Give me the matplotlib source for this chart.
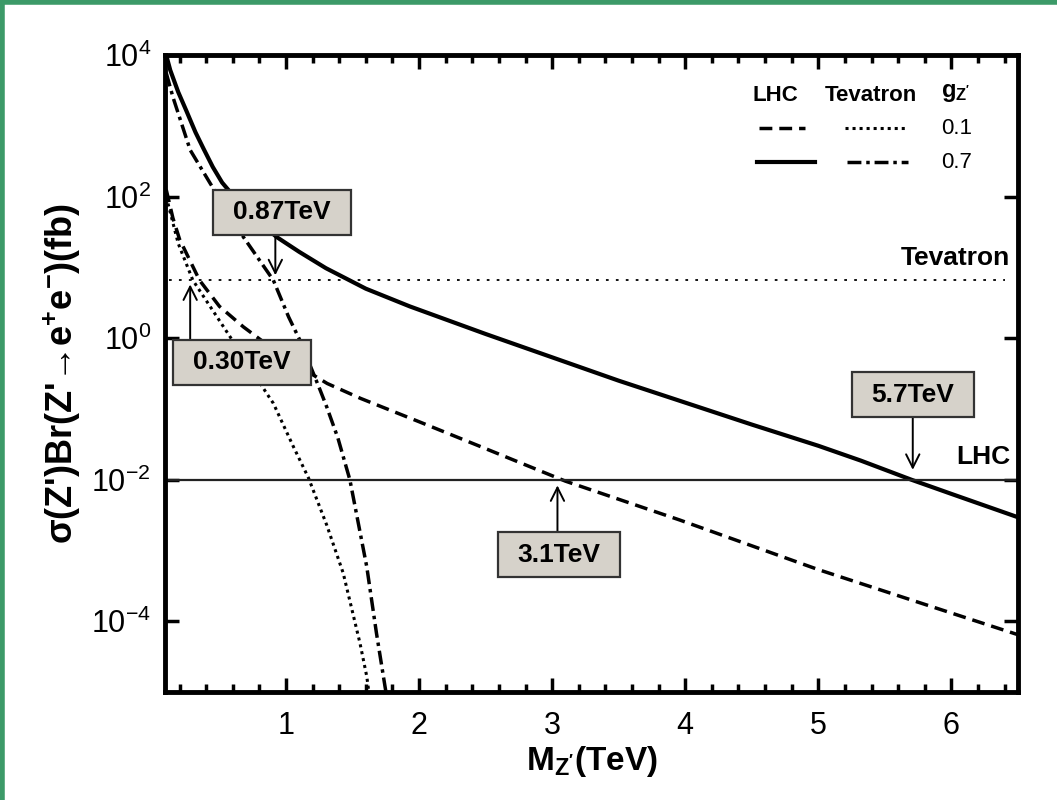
import numpy as np
import matplotlib.pyplot as plt
from matplotlib.lines import Line2D
from matplotlib.patches import Rectangle
from matplotlib.ticker import MultipleLocator, NullLocator

plt.rcParams['font.family'] = ['Liberation Sans', 'DejaVu Sans']
plt.rcParams['mathtext.fontset'] = 'custom'
plt.rcParams['mathtext.rm'] = 'Liberation Sans'
plt.rcParams['mathtext.it'] = 'Liberation Sans:italic'
plt.rcParams['mathtext.bf'] = 'Liberation Sans:bold'
plt.rcParams['mathtext.default'] = 'regular'

# M_Z' in TeV, cross section as log10(sigma*Br / fb)
lhc_07_m = [0.1, 0.13, 0.19, 0.25, 0.32, 0.38, 0.45, 0.52, 0.7, 0.93, 1.1, 1.3, 1.6,
            1.93, 2.5, 3.0, 3.5, 4.0, 4.5, 5.0, 5.32, 5.7, 6.0, 6.5]
lhc_07_lg = [4.0, 3.79, 3.48, 3.22, 2.91, 2.68, 2.42, 2.2, 1.8, 1.43, 1.22, 0.99, 0.70,
             0.45, 0.06, -0.27, -0.6, -0.91, -1.22, -1.52, -1.73, -2.0, -2.2, -2.53]

lhc_01_m = [0.1, 0.15, 0.2, 0.35, 0.5, 0.68, 0.9, 1.1, 1.31, 1.56, 2.0, 2.46,
            3.1, 3.96, 5.0, 5.7, 6.5]
lhc_01_lg = [2.1, 1.7, 1.4, 0.82, 0.45, 0.16, -0.15, -0.4, -0.64, -0.85, -1.18, -1.53,
             -2.02, -2.57, -3.27, -3.7, -4.19]

tev_07_m = [0.1, 0.15, 0.28, 0.43, 0.68, 0.905, 1.02, 1.105, 1.256, 1.306, 1.39,
            1.48, 1.607, 1.68, 1.744, 1.76]
tev_07_lg = [3.75, 3.41, 2.66, 2.19, 1.43, 0.82, 0.30, -0.03, -0.73, -0.97, -1.41,
             -2.0, -3.23, -4.17, -4.92, -5.1]

tev_01_m = [0.1, 0.19, 0.30, 0.58, 0.855, 0.905, 1.055, 1.168, 1.306, 1.43, 1.556,
            1.607, 1.63]
tev_01_lg = [2.0, 1.34, 0.82, 0.02, -0.78, -0.92, -1.53, -1.97, -2.64, -3.32, -4.31,
             -4.78, -5.1]

tev_limit = 6.6    # fb
lhc_limit = 0.01   # fb

# label, arrow tip (M, sigma), box centre (M, sigma)
note_labels = ["0.87TeV", "0.30TeV", "3.1TeV", "5.7TeV"]
note_tip_m = [0.92, 0.28, 3.04, 5.71]
note_tip_s = [10 ** 0.89, 10 ** 0.76, 10 ** -2.08, 10 ** -1.86]
note_box_m = [0.97, 0.67, 3.05, 5.71]
note_box_s = [10 ** 1.78, 10 ** -0.34, 10 ** -3.06, 10 ** -0.80]

fig = plt.figure(figsize=(10.57, 8), dpi=100)
ax = fig.add_axes([0.156, 0.135, 0.807, 0.796])

ax.plot(lhc_07_m, 10 ** np.array(lhc_07_lg), color='black', lw=3.0, ls='-')
ax.plot(lhc_01_m, 10 ** np.array(lhc_01_lg), color='black', lw=2.5, ls=(0, (3.7, 2.0)))
ax.plot(tev_07_m, 10 ** np.array(tev_07_lg), color='black', lw=2.5,
        ls=(0, (4.0, 1.4, 1.0, 1.4)))
ax.plot(tev_01_m, 10 ** np.array(tev_01_lg), color='black', lw=2.2, ls=(0, (1.0, 1.3)))

ax.axhline(tev_limit, xmin=0.005, xmax=0.985, color='black', lw=1.3, ls=(0, (1.5, 4)))
ax.axhline(lhc_limit, color='#222222', lw=1.6)

ax.set_yscale('log')
ax.set_xlim(0.09, 6.5)
ax.set_ylim(1e-5, 1e4)

ax.text(6.44, tev_limit * 1.4, "Tevatron", ha='right', va='bottom',
        fontsize=19, fontweight='bold')
ax.text(6.44, lhc_limit * 1.4, "LHC", ha='right', va='bottom',
        fontsize=19, fontweight='bold')

# boxed labels with vertical arrows
to_axes = lambda x, y: ax.transAxes.inverted().transform(ax.transData.transform((x, y)))
box_h = 0.071
for i, label in enumerate(note_labels):
    bx, by = to_axes(note_box_m[i], note_box_s[i])
    tx, ty = to_axes(note_tip_m[i], note_tip_s[i])
    bw = 0.161 if len(label) == 7 else 0.143
    ax.add_patch(Rectangle((bx - bw / 2, by - box_h / 2), bw, box_h,
                           transform=ax.transAxes, facecolor='#d6d2ca',
                           edgecolor='#333333', lw=1.6, zorder=4))
    ax.text(bx, by, label, transform=ax.transAxes, ha='center', va='center',
            fontsize=19, fontweight='bold', zorder=5)
    sy = by - box_h / 2 if ty < by else by + box_h / 2
    ax.annotate('', xy=(tx, ty), xycoords='axes fraction',
                xytext=(tx, sy), textcoords='axes fraction',
                arrowprops=dict(arrowstyle='->', color='black', lw=1.4,
                                mutation_scale=24, shrinkA=0, shrinkB=0))

# legend block
ax.text(0.716, 0.937, "LHC", transform=ax.transAxes, fontsize=16,
        fontweight='bold', ha='center', va='center')
ax.text(0.828, 0.937, "Tevatron", transform=ax.transAxes, fontsize=16,
        fontweight='bold', ha='center', va='center')
ax.text(0.927, 0.942, r"g$_{\mathbf{Z'}}$", transform=ax.transAxes, fontsize=17,
        fontweight='bold', ha='center', va='center')
ax.add_line(Line2D([0.696, 0.75], [0.885, 0.885], transform=ax.transAxes,
                   color='black', lw=2.5, ls=(0, (3.7, 2.0))))
ax.add_line(Line2D([0.797, 0.868], [0.885, 0.885], transform=ax.transAxes,
                   color='black', lw=2.2, ls=(0, (1.0, 1.3))))
ax.add_line(Line2D([0.694, 0.762], [0.832, 0.832], transform=ax.transAxes,
                   color='black', lw=3.0, ls='-'))
ax.add_line(Line2D([0.8, 0.871], [0.832, 0.832], transform=ax.transAxes,
                   color='black', lw=2.5, ls=(0, (4.0, 1.4, 1.0, 1.4))))
ax.text(0.928, 0.885, "0.1", transform=ax.transAxes, fontsize=16,
        ha='center', va='center')
ax.text(0.928, 0.832, "0.7", transform=ax.transAxes, fontsize=16,
        ha='center', va='center')

ax.set_yticks([1e-4, 1e-2, 1e0, 1e2, 1e4])
ax.yaxis.set_minor_locator(NullLocator())
ax.xaxis.set_major_locator(MultipleLocator(1))
ax.xaxis.set_minor_locator(MultipleLocator(0.2))
ax.tick_params(which='both', direction='in', top=True, right=True, width=2.5,
               labelsize=22, colors='black')
ax.tick_params(which='major', length=10)
ax.tick_params(which='minor', length=6)
ax.tick_params(axis='x', which='major', pad=14)
ax.tick_params(axis='y', which='major', pad=10)
for sp in ax.spines.values():
    sp.set_linewidth(3.5)

ax.set_xlabel(r"M$_{\mathbf{Z'}}$(TeV)", fontsize=24, fontweight='bold', labelpad=2)
ax.set_ylabel(r"σ(Z')Br(Z'→e$^{\mathbf{+}}$e$^{\mathbf{-}}$)(fb)", fontsize=26,
              fontweight='bold', labelpad=6)

# green frame of the original slide (top and left edges)
fig.add_artist(Line2D([0, 1], [0.997, 0.997], transform=fig.transFigure,
                      color='#3c9a68', lw=4))
fig.add_artist(Line2D([0.002, 0.002], [0, 1], transform=fig.transFigure,
                      color='#3c9a68', lw=4))

fig.savefig('out.png', dpi=100)
